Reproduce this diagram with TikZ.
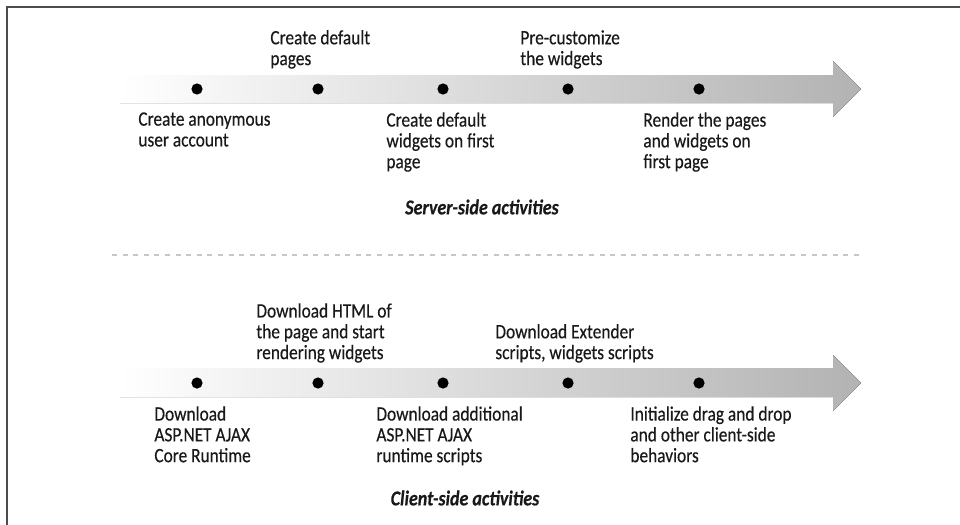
\documentclass[tikz,border=0pt]{standalone}
\usepackage{fontspec}
\setmainfont[FakeStretch=0.85, FakeBold=0.35]{Carlito}
\usetikzlibrary{positioning}

\tikzset{
  dot/.style={circle, fill=black, inner sep=0pt, minimum size=5.6pt},
  lbl/.style={align=left, inner sep=0pt, text=black!90, font=\fontsize{10.2}{10.4}\selectfont},
  ttl/.style={inner sep=0pt, text=black!90, font=\fontsize{10.6}{12}\selectfont\bfseries\itshape},
  timeline/.style={left color=white, right color=gray!60},
}

\begin{document}
\begin{tikzpicture}[x=0.5pt, y=-0.5pt]
	\useasboundingbox (0,0) rectangle (960,525);
	% frame
	\draw[black!70, line width=1pt] (7,525) -- (7,6.5) -- (960,6.5);

	% server side
	\fill[timeline] (120,75) -- (833,75) -- (833,61) -- (861,89) -- (833,117) -- (833,103) -- (120,103) -- cycle;
	\node[dot] (s1) at (197,89) {};
	\node[dot] (s2) at (318,89) {};
	\node[dot] (s3) at (443,89) {};
	\node[dot] (s4) at (568,89) {};
	\node[dot] (s5) at (699,89) {};
	\node[lbl, anchor=south west] (s2t) at (270,69) {Create default\\pages};
	\node[lbl, anchor=south west] (s4t) at (520,69) {Pre-customize\\the widgets};
	\node[lbl, anchor=north west] (s1t) at (138,112) {Create anonymous\\user account};
	\node[lbl, anchor=north west] (s3t) at (386,112) {Create default\\widgets on first\\page};
	\node[lbl, anchor=north west] (s5t) at (643,112) {Render the pages\\and widgets on\\first page};
	\node[ttl] (server) at (482,207) {Server-side activities};

	\draw[black!22, line width=0.7pt, dash pattern=on 2.5pt off 2.8pt] (112,255) -- (862,255);

	% client side
	\fill[timeline] (120,368) -- (833,368) -- (833,355) -- (861,383) -- (833,411) -- (833,397) -- (120,397) -- cycle;
	\node[dot] (c1) at (197,383) {};
	\node[dot] (c2) at (318,383) {};
	\node[dot] (c3) at (443,383) {};
	\node[dot] (c4) at (568,383) {};
	\node[dot] (c5) at (699,383) {};
	\node[lbl, anchor=south west] (c2t) at (256,363) {Download HTML of\\the page and start\\rendering widgets};
	\node[lbl, anchor=south west] (c4t) at (495,363) {Download Extender\\scripts, widgets scripts};
	\node[lbl, anchor=north west] (c1t) at (154,406) {Download\\ASP.NET AJAX\\Core Runtime};
	\node[lbl, anchor=north west] (c3t) at (376,406) {Download additional\\ASP.NET AJAX\\runtime scripts};
	\node[lbl, anchor=north west] (c5t) at (630,406) {Initialize drag and drop\\and other client-side\\behaviors};
	\node[ttl] (client) at (465,498) {Client-side activities};
\end{tikzpicture}
\end{document}
